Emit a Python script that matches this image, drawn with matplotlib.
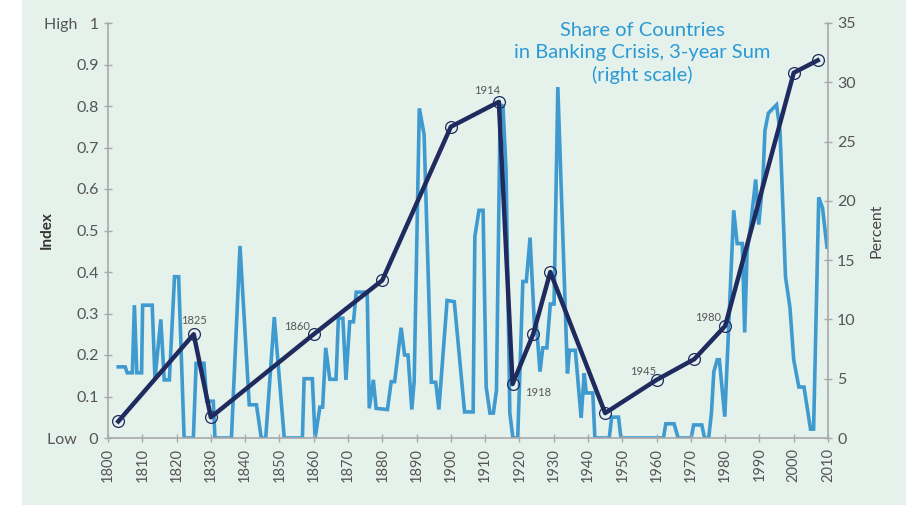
import matplotlib.pyplot as plt
from matplotlib.patches import Rectangle

# index (left scale), dark line with circles
idx_years = [1803, 1825, 1830, 1860, 1880, 1900, 1914, 1918, 1924, 1929,
             1945, 1960, 1971, 1980, 2000, 2007]
idx_values = [0.04, 0.25, 0.05, 0.25, 0.38, 0.75, 0.81, 0.13, 0.25, 0.40,
              0.06, 0.14, 0.19, 0.27, 0.88, 0.91]

# point labels and the year of the circle they sit next to
label_text = ['1825', '1860', '1914', '1918', '1945', '1980']
label_at = [1825, 1860, 1914, 1918, 1960, 1980]

# share of countries in banking crisis, 3-year sum (right scale, percent)
crisis_years = [1803, 1805, 1805.6, 1807.1, 1807.7, 1808.4, 1809.8, 1810.1, 1812.9, 1813.7,
                1815.4, 1816.4, 1817.9, 1819.4, 1820.6, 1822.2, 1824.9, 1825.7, 1828, 1828.8,
                1830.7, 1831.2, 1836, 1838.5, 1841.2, 1843.3, 1844.7, 1846, 1848.5, 1851.4,
                1856.7, 1857.2, 1859.6, 1860.4, 1861.8, 1862.6, 1863.5, 1864.7, 1866.5, 1867.2,
                1868.5, 1869.4, 1870.5, 1871.6, 1872.4, 1875.6, 1876.2, 1877.4, 1878.2, 1881.5,
                1882.6, 1883.6, 1885.5, 1886.5, 1887.5, 1888.6, 1889.3, 1890.8, 1892.2, 1894.3,
                1895.6, 1896.5, 1898.9, 1901, 1904, 1906.5, 1907, 1908.2, 1909.4, 1910.3,
                1911.4, 1912.4, 1913.3, 1914.4, 1915.2, 1916.1, 1917.2, 1918.1, 1919.5, 1921,
                1922, 1923.1, 1924.4, 1925, 1926, 1926.8, 1928, 1929, 1930.1, 1931.2,
                1934, 1934.6, 1936.3, 1938, 1938.9, 1939.5, 1941.4, 1942, 1946.2, 1946.9,
                1948.9, 1949.6, 1962, 1962.7, 1965.1, 1966.3, 1970.1, 1970.8, 1973.2, 1974,
                1975.2, 1976, 1976.7, 1977.7, 1978.3, 1979.9, 1982.5, 1983.5, 1985, 1985.7,
                1986.4, 1987.4, 1988.9, 1989.8, 1991, 1991.6, 1992.6, 1995, 1996, 1997.6,
                1998.9, 2000, 2001.5, 2003, 2004.9, 2005.8, 2007.3, 2008.4, 2009.7]
crisis_pct = [6.0, 6.0, 5.5, 5.5, 11.2, 5.5, 5.5, 11.2, 11.2, 5.0,
              10.0, 4.9, 4.9, 13.6, 13.6, 0, 0, 6.3, 6.3, 3.1,
              3.1, 0, 0, 16.2, 2.8, 2.8, 0, 0, 10.2, 0,
              0, 5.0, 5.0, 0, 2.6, 2.6, 7.6, 4.95, 4.95, 10.1,
              10.1, 4.9, 9.8, 9.8, 12.3, 12.3, 2.5, 4.9, 2.5, 2.4,
              4.75, 4.75, 9.3, 7.0, 7.0, 2.4, 4.75, 27.8, 25.6, 4.7,
              4.7, 2.4, 11.6, 11.5, 2.2, 2.2, 17.0, 19.2, 19.2, 4.3,
              2.1, 2.1, 4.0, 28.1, 28.0, 22.6, 2.1, 0, 0, 13.2,
              13.2, 16.9, 9.4, 9.4, 5.6, 7.6, 7.6, 11.3, 11.3, 29.6,
              5.45, 7.4, 7.4, 1.7, 5.45, 3.8, 3.8, 0, 0, 1.76,
              1.76, 0, 0, 1.2, 1.2, 0, 0, 1.1, 1.1, 0,
              0, 2.1, 5.6, 6.6, 6.6, 1.8, 19.2, 16.4, 16.4, 8.9,
              15.7, 17.8, 21.8, 18.0, 21.7, 25.9, 27.4, 28.1, 25.9, 13.6,
              11.0, 6.6, 4.3, 4.3, 0.75, 0.75, 20.3, 19.4, 16.1]

left_ticks = [0, 0.1, 0.2, 0.3, 0.4, 0.5, 0.6, 0.7, 0.8, 0.9, 1]
left_labels = ['Low   0', '0.1', '0.2', '0.3', '0.4', '0.5', '0.6', '0.7', '0.8', '0.9', 'High   1']
right_ticks = [0, 5, 10, 15, 20, 25, 30, 35]
x_ticks = list(range(1800, 2011, 10))

bg = '#e5f1eb'
navy = '#1f2b5e'
blue = '#3f9ad0'
grey_axis = '#a9a9a9'
grey_text = '#555555'

plt.rcParams['font.family'] = ['Lato', 'DejaVu Sans']

fig = plt.figure(figsize=(9.06, 5.05), dpi=100)
fig.patch.set_facecolor('white')
fig.patches.append(Rectangle((22 / 906, 0), 1 - 22 / 906, 1, transform=fig.transFigure,
                             facecolor=bg, edgecolor='none', zorder=-10))

ax = fig.add_axes([108 / 906, 1 - 438 / 505, 720 / 906, 415 / 505])
ax.set_facecolor('none')
ax2 = ax.twinx()

ax2.plot(crisis_years, crisis_pct, color=blue, lw=2.6, solid_joinstyle='miter', zorder=2)
ax2.set_ylim(0, 35)
ax2.set_yticks(right_ticks)

ax.set_zorder(ax2.get_zorder() + 1)
ax.patch.set_visible(False)
ax.plot(idx_years, idx_values, color=navy, lw=3.2, zorder=3,
        marker='o', markersize=8.5, markerfacecolor='none',
        markeredgecolor=navy, markeredgewidth=0.9)

offsets = {'1825': (0, 14), '1860': (-17, 8), '1914': (-12, 11),
           '1918': (25, -8), '1945': (-13, 8), '1980': (-17, 8)}
for txt, yr in zip(label_text, label_at):
    val = idx_values[idx_years.index(yr)]
    ax.annotate(txt, (yr, val), xytext=offsets[txt], textcoords='offset pixels',
                ha='center', va='center', fontsize=8, color=grey_text)

ax.set_xlim(1800, 2010)
ax.set_ylim(0, 1)
ax.set_xticks(x_ticks)
ax.set_xticklabels([str(x) for x in x_ticks], rotation=90)
ax.set_yticks(left_ticks)
ax.set_yticklabels(left_labels)

for a in (ax, ax2):
    for s in a.spines.values():
        s.set_visible(False)
ax.spines['left'].set_visible(True)
ax.spines['bottom'].set_visible(True)
ax2.spines['right'].set_visible(True)
for s in (ax.spines['left'], ax.spines['bottom'], ax2.spines['right']):
    s.set_color(grey_axis)
    s.set_linewidth(1.2)

ax.tick_params(axis='both', direction='inout', length=6, width=1, color=grey_axis,
               labelcolor=grey_text, labelsize=11.5)
ax.tick_params(axis='x', labelsize=10.5, pad=4)
ax2.tick_params(axis='y', direction='inout', length=6, width=1, color=grey_axis,
                labelcolor=grey_text, labelsize=11.5)

ax.set_ylabel('Index', fontsize=11, fontweight='bold', color='#333333')
ax.yaxis.set_label_coords((54 - 108) / 720, 0.5)
ax2.set_ylabel('Percent', fontsize=11.5, color='#444444')
ax2.yaxis.set_label_coords((869 - 108) / 720, 0.5)

fig.text(642 / 906, 1 - 53 / 505,
         'Share of Countries\nin Banking Crisis, 3-year Sum\n(right scale)',
         ha='center', va='center', fontsize=14.5, color='#2a9ad5', linespacing=1.32)

fig.savefig('out.png', dpi=100, facecolor=fig.get_facecolor())
